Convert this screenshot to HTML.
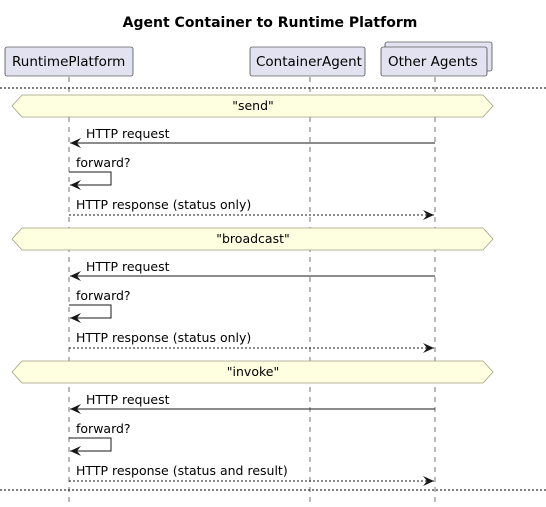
<!DOCTYPE html>
<html><head><meta charset="utf-8"><style>
html,body{margin:0;padding:0;background:#fff}
svg{display:block;font-family:"DejaVu Sans","Liberation Sans",sans-serif}
</style></head><body>
<svg width="546" height="507" viewBox="0 0 546 507" xmlns="http://www.w3.org/2000/svg">
<defs>
<marker id="a" markerWidth="12" markerHeight="10" refX="11" refY="5" orient="auto" markerUnits="userSpaceOnUse">
<path d="M0,0 L11,5 L0,10 L4,5 Z" fill="#181818"/></marker>
</defs>
<text x="270" y="27" text-anchor="middle" font-size="14" font-weight="bold" fill="#000">Agent Container to Runtime Platform</text>
<g stroke="#181818" stroke-width="0.6" stroke-dasharray="5,5">
<line x1="69" y1="77" x2="69" y2="502"/>
<line x1="310" y1="77" x2="310" y2="502"/>
<line x1="435" y1="77" x2="435" y2="502"/>
</g>
<g fill="#E2E2F0" stroke="#181818" stroke-width="0.6">
<rect x="5" y="47" width="128" height="29" rx="2"/>
<rect x="250" y="47" width="115" height="29" rx="2"/>
<rect x="385" y="42" width="107" height="29" rx="2"/>
<rect x="381" y="47" width="106" height="29" rx="2"/>
</g>
<g font-size="13.5" fill="#000">
<text x="12" y="66">RuntimePlatform</text>
<text x="256" y="66">ContainerAgent</text>
<text x="388" y="66">Other Agents</text>
</g>
<g stroke="#000" stroke-width="1" stroke-dasharray="2,2">
<line x1="0" y1="88" x2="546" y2="88"/>
<line x1="0" y1="490" x2="546" y2="490"/>
</g>
<g font-size="12.5" fill="#000">
<g>
<polygon points="12,106 22,95 483,95 493,106 483,117 22,117" fill="#FEFEE0" stroke="#A0A080" stroke-width="0.8"/>
<text x="253" y="110" text-anchor="middle">"send"</text>
<text x="86" y="138">HTTP request</text>
<line x1="435" y1="143" x2="70" y2="143" stroke="#181818" marker-end="url(#a)"/>
<text x="76" y="167">forward?</text>
<polyline points="69,172 111,172 111,185 70,185" fill="none" stroke="#181818" marker-end="url(#a)"/>
<text x="76" y="209">HTTP response (status only)</text>
<line x1="69" y1="215" x2="434" y2="215" stroke="#181818" stroke-dasharray="2,2" marker-end="url(#a)"/>
</g>
<g transform="translate(0,133)">
<polygon points="12,106 22,95 483,95 493,106 483,117 22,117" fill="#FEFEE0" stroke="#A0A080" stroke-width="0.8"/>
<text x="253" y="110" text-anchor="middle">"broadcast"</text>
<text x="86" y="138">HTTP request</text>
<line x1="435" y1="143" x2="70" y2="143" stroke="#181818" marker-end="url(#a)"/>
<text x="76" y="167">forward?</text>
<polyline points="69,172 111,172 111,185 70,185" fill="none" stroke="#181818" marker-end="url(#a)"/>
<text x="76" y="209">HTTP response (status only)</text>
<line x1="69" y1="215" x2="434" y2="215" stroke="#181818" stroke-dasharray="2,2" marker-end="url(#a)"/>
</g>
<g transform="translate(0,266)">
<polygon points="12,106 22,95 483,95 493,106 483,117 22,117" fill="#FEFEE0" stroke="#A0A080" stroke-width="0.8"/>
<text x="253" y="110" text-anchor="middle">"invoke"</text>
<text x="86" y="138">HTTP request</text>
<line x1="435" y1="143" x2="70" y2="143" stroke="#181818" marker-end="url(#a)"/>
<text x="76" y="167">forward?</text>
<polyline points="69,172 111,172 111,185 70,185" fill="none" stroke="#181818" marker-end="url(#a)"/>
<text x="76" y="209">HTTP response (status and result)</text>
<line x1="69" y1="215" x2="434" y2="215" stroke="#181818" stroke-dasharray="2,2" marker-end="url(#a)"/>
</g>
</g>
</svg>
</body></html>
